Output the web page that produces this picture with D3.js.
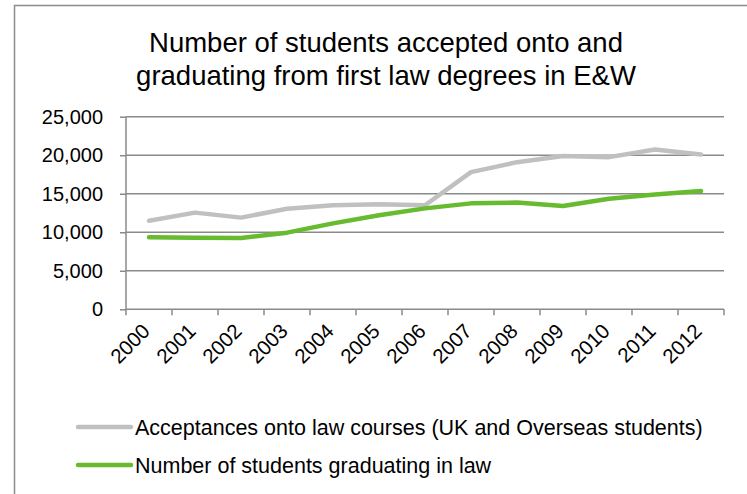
<!DOCTYPE html>
<html><head><meta charset="utf-8">
<script src="https://cdn.jsdelivr.net/npm/d3@7"></script>
<style>body{margin:0;background:#fff}svg{display:block}text{font-family:"Liberation Sans",Arial,sans-serif;fill:#000}</style>
</head><body>
<svg id="c" width="747" height="494"></svg>
<script>
const years = ["2000","2001","2002","2003","2004","2005","2006","2007","2008","2009","2010","2011","2012"];
const acceptances = [11500,12550,11900,13050,13500,13650,13500,17800,19100,19900,19750,20750,20100];
const graduates = [9350,9300,9250,9950,11150,12200,13100,13750,13850,13400,14350,14900,15350];
const yTicks = [0,5000,10000,15000,20000,25000];
const titleLines = ["Number of students accepted onto and","graduating from first law degrees in E&W"];
const seriesNames = ["Acceptances onto law courses (UK and Overseas students)","Number of students graduating in law"];
const colors = ["#c0c0c0","#66bb2e"];

const svg = d3.select("#c");
svg.append("rect").attr("x",14.5).attr("y",5.5).attr("width",800).attr("height",600)
  .attr("fill","none").attr("stroke","#8c8c8c").attr("stroke-width",1.5);

const x = d3.scaleBand().domain(years).range([126,724]);
const y = d3.scaleLinear().domain([0,25000]).range([309.3,116.7]);

svg.selectAll(".t").data(titleLines).join("text")
  .attr("x",386).attr("y",(d,i)=>52+i*33).attr("text-anchor","middle")
  .attr("font-size",27.5).text(d=>d);

// gridlines
svg.append("g").selectAll("line").data(yTicks.slice(1)).join("line")
  .attr("x1",126).attr("x2",724).attr("y1",d=>y(d)).attr("y2",d=>y(d))
  .attr("stroke","#8a8a8a").attr("stroke-width",1.5);

const ya = svg.append("g").attr("transform","translate(126,0)")
  .call(d3.axisLeft(y).tickValues(yTicks).tickFormat(d3.format(",")).tickSize(6).tickPadding(17));
ya.select(".domain").attr("stroke","#8a8a8a").attr("stroke-width",1.5).attr("d","M0,"+y(25000)+"V"+y(0));
ya.selectAll(".tick line").attr("stroke","#8a8a8a").attr("stroke-width",1.5);
ya.selectAll("text").attr("font-size",20).attr("font-family","Liberation Sans, Arial, sans-serif").attr("fill","#000");

const xa = svg.append("g").attr("transform","translate(0,"+y(0)+")");
xa.append("line").attr("x1",126).attr("x2",724).attr("stroke","#8a8a8a").attr("stroke-width",1.5);
const bounds = years.map(d=>x(d)).concat([x.range()[1]]);
xa.selectAll(".tk").data(bounds).join("line").attr("x1",d=>d).attr("x2",d=>d).attr("y1",0).attr("y2",6)
  .attr("stroke","#8a8a8a").attr("stroke-width",1.5);
xa.selectAll(".lb").data(years).join("text")
  .attr("transform",d=>"translate("+(x(d)+x.bandwidth()/2-8)+",13) rotate(-45)")
  .attr("text-anchor","end").attr("dy","0.7em").attr("font-size",20.5).text(d=>d);

const line = d3.line().x((d,i)=>x(years[i])+x.bandwidth()/2).y(d=>y(d));
[acceptances,graduates].forEach((s,i)=>{
  svg.append("path").datum(s).attr("d",line).attr("fill","none")
    .attr("stroke",colors[i]).attr("stroke-width",4.5).attr("stroke-linejoin","round").attr("stroke-linecap","round");
});

const lg = svg.append("g");
seriesNames.forEach((n,i)=>{
  const yy = 427+i*38;
  lg.append("line").attr("x1",78).attr("x2",131).attr("y1",yy).attr("y2",yy)
    .attr("stroke",colors[i]).attr("stroke-width",4.5).attr("stroke-linecap","round");
  lg.append("text").attr("x",135).attr("y",yy+7.5).attr("font-size",21.5).text(n);
});
</script>
</body></html>
